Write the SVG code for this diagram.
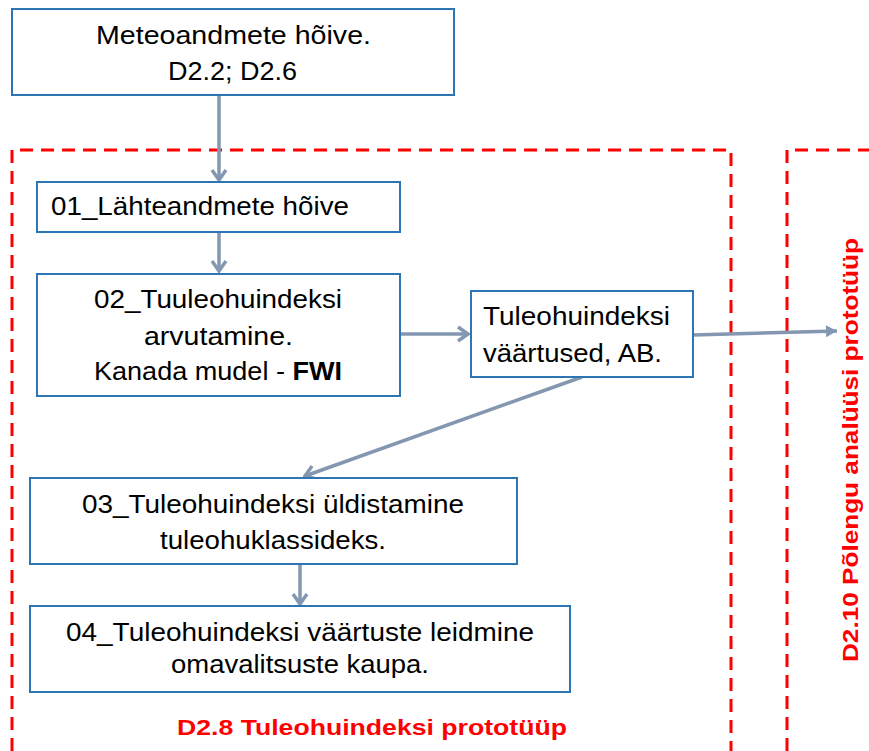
<svg xmlns="http://www.w3.org/2000/svg" width="869" height="751" viewBox="0 0 869 751">
  <style>
    .box { fill: #ffffff; stroke: #2e75b6; stroke-width: 2; }
    .lbl { font-family: "Liberation Sans", Arial, sans-serif; font-size: 25px; fill: #000000; }
    .zone { fill: none; stroke: #ff0000; stroke-width: 3; stroke-dasharray: 13 8; }
    .zlbl { font-family: "Liberation Sans", Arial, sans-serif; font-size: 22px; font-weight: bold; fill: #ff0000; }
    .conn { fill: none; stroke: #8497b0; stroke-width: 3.5; }
  </style>
  <defs>
    <marker id="chev" viewBox="-14 -10 16 20" refX="0" refY="0" markerWidth="16" markerHeight="20" markerUnits="userSpaceOnUse" orient="auto">
      <path d="M-10,-7 L0,0 L-10,7" fill="none" stroke="#8497b0" stroke-width="3.5" stroke-linejoin="miter"/>
    </marker>
    <marker id="tri" viewBox="-12 -7 13 14" refX="0" refY="0" markerWidth="13" markerHeight="14" markerUnits="userSpaceOnUse" orient="auto">
      <path d="M-11,-6 L0,0 L-11,6 Z" fill="#8497b0"/>
    </marker>
  </defs>

  <rect width="869" height="751" fill="#ffffff"/>

  <!-- dashed zone frames -->
  <g id="zones">
    <path class="zone" d="M12,751 L12,150 L731,150 L731,751"/>
    <path class="zone" d="M787,751 L787,150 L875,150"/>
    <text class="zlbl" x="177" y="735" textLength="390" lengthAdjust="spacingAndGlyphs">D2.8 Tuleohuindeksi prototüüp</text>
    <text class="zlbl" font-size="23" transform="translate(858,662) rotate(-90)" x="0" y="0" textLength="424" lengthAdjust="spacingAndGlyphs">D2.10 Põlengu analüüsi prototüüp</text>
  </g>

  <!-- connectors -->
  <g id="connectors">
    <line class="conn" x1="219" y1="95" x2="219" y2="180" marker-end="url(#chev)"/>
    <line class="conn" x1="219" y1="232" x2="219" y2="271" marker-end="url(#chev)"/>
    <line class="conn" x1="401" y1="334" x2="468" y2="334" marker-end="url(#chev)"/>
    <line class="conn" x1="693" y1="335" x2="837" y2="331" marker-end="url(#tri)"/>
    <line class="conn" x1="582" y1="377" x2="305" y2="476" marker-end="url(#chev)"/>
    <line class="conn" x1="300" y1="564" x2="300" y2="604" marker-end="url(#chev)"/>
  </g>

  <g id="meteo">
    <rect class="box" x="12" y="9" width="442" height="86"/>
    <text class="lbl" x="96" y="44" textLength="275" lengthAdjust="spacingAndGlyphs">Meteoandmete hõive.</text>
    <text class="lbl" x="168" y="80" textLength="129" lengthAdjust="spacingAndGlyphs">D2.2; D2.6</text>
  </g>

  <g id="n01">
    <rect class="box" x="37" y="182" width="363" height="50"/>
    <text class="lbl" x="51" y="215" textLength="298" lengthAdjust="spacingAndGlyphs">01_Lähteandmete hõive</text>
  </g>

  <g id="n02">
    <rect class="box" x="37" y="274" width="363" height="122"/>
    <text class="lbl" x="94" y="308" textLength="248" lengthAdjust="spacingAndGlyphs">02_Tuuleohuindeksi</text>
    <text class="lbl" x="144" y="345" textLength="149" lengthAdjust="spacingAndGlyphs">arvutamine.</text>
    <text class="lbl" x="94" y="380" textLength="248" lengthAdjust="spacingAndGlyphs">Kanada mudel - <tspan font-weight="bold">FWI</tspan></text>
  </g>

  <g id="values">
    <rect class="box" x="471" y="291" width="222" height="86"/>
    <text class="lbl" x="483" y="325" textLength="187" lengthAdjust="spacingAndGlyphs">Tuleohuindeksi</text>
    <text class="lbl" x="483" y="362" textLength="179" lengthAdjust="spacingAndGlyphs">väärtused, AB.</text>
  </g>

  <g id="n03">
    <rect class="box" x="30" y="478" width="487" height="86"/>
    <text class="lbl" x="82" y="513" textLength="382" lengthAdjust="spacingAndGlyphs">03_Tuleohuindeksi üldistamine</text>
    <text class="lbl" x="160" y="549" textLength="226" lengthAdjust="spacingAndGlyphs">tuleohuklassideks.</text>
  </g>

  <g id="n04">
    <rect class="box" x="30" y="606" width="540" height="86"/>
    <text class="lbl" x="66" y="641" textLength="468" lengthAdjust="spacingAndGlyphs">04_Tuleohuindeksi väärtuste leidmine</text>
    <text class="lbl" x="171" y="673" textLength="258" lengthAdjust="spacingAndGlyphs">omavalitsuste kaupa.</text>
  </g>
</svg>
